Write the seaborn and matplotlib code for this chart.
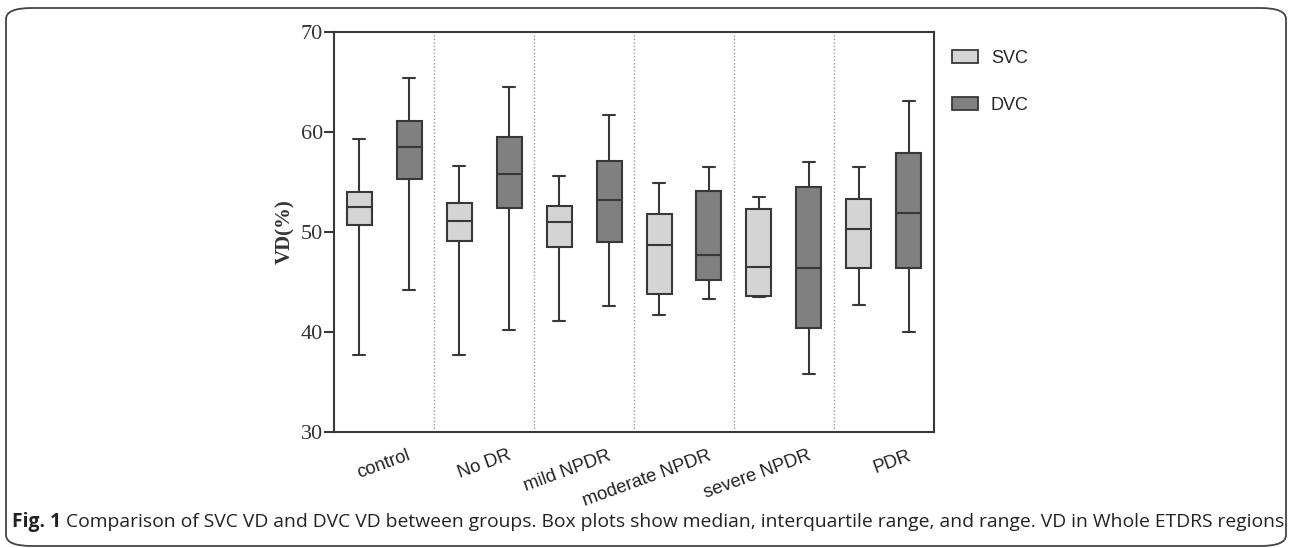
import numpy as np
import pandas as pd
import matplotlib
matplotlib.use("Agg")
import matplotlib.pyplot as plt
import matplotlib.transforms as mtransforms
import seaborn as sns
from matplotlib.patches import Patch, FancyBboxPatch

groups = ["control", "No DR", "mild NPDR", "moderate NPDR", "severe NPDR", "PDR"]
layers = ["SVC", "DVC"]

# five-number summaries: min, Q1, median, Q3, max
svc_min = [37.7, 37.7, 41.1, 41.7, 43.5, 42.7]
svc_q1 = [50.7, 49.1, 48.5, 43.8, 43.6, 46.4]
svc_med = [52.5, 51.1, 51.0, 48.7, 46.5, 50.3]
svc_q3 = [54.0, 52.9, 52.6, 51.8, 52.3, 53.3]
svc_max = [59.3, 56.6, 55.6, 54.9, 53.5, 56.5]

dvc_min = [44.2, 40.2, 42.6, 43.3, 35.8, 40.0]
dvc_q1 = [55.3, 52.4, 49.0, 45.2, 40.4, 46.4]
dvc_med = [58.5, 55.8, 53.2, 47.7, 46.4, 51.9]
dvc_q3 = [61.1, 59.5, 57.1, 54.1, 54.5, 57.9]
dvc_max = [65.4, 64.5, 61.7, 56.5, 57.0, 63.1]

yticks = [30, 40, 50, 60, 70]

caption_bold = "Fig. 1"
caption_rest = (" Comparison of SVC VD and DVC VD between groups. Box plots show median, "
                "interquartile range, and range. VD in Whole ETDRS regions")

rows = []
for i, g in enumerate(groups):
    for v in (svc_min[i], svc_q1[i], svc_med[i], svc_q3[i], svc_max[i]):
        rows.append((g, "SVC", v))
    for v in (dvc_min[i], dvc_q1[i], dvc_med[i], dvc_q3[i], dvc_max[i]):
        rows.append((g, "DVC", v))
df = pd.DataFrame(rows, columns=["group", "layer", "vd"])

sns.set_style("white")
W, H = 1292, 548
fig = plt.figure(figsize=(W / 100, H / 100), dpi=100)
ax = fig.add_axes([334 / W, 1 - 431.7 / H, 600 / W, 400 / H])

colors = {"SVC": "#d4d4d4", "DVC": "#808080"}
edge = "#383838"
sns.boxplot(data=df, x="group", y="vd", hue="layer", order=groups, hue_order=layers,
            whis=(0, 100), width=1.0, gap=0.5, palette=colors, linecolor=edge,
            linewidth=1.5, showfliers=False, legend=False, ax=ax)

for k in range(1, len(groups)):
    ax.axvline(k - 0.5, color="#9a9a9a", linestyle=(0, (1, 1.5)), linewidth=1.0, zorder=0)

ax.set_xlim(-0.5, len(groups) - 0.5)
ax.set_ylim(30, 70)
ax.set_yticks(yticks)
ax.set_yticklabels([str(t) for t in yticks], family=["Liberation Serif", "DejaVu Serif"],
                   fontsize=16, color="#333333")
ax.tick_params(axis="y", direction="out", length=7, width=1.5, color=edge, pad=1, left=True)
ax.tick_params(axis="x", length=0, pad=20)
ax.set_xticks(range(len(groups)))
ax.set_xticklabels(groups, rotation=20, ha="right", va="baseline", rotation_mode="anchor",
                   fontsize=13.3, family=["Liberation Sans", "DejaVu Sans"], color="#222222")
shift = mtransforms.ScaledTranslation(20 / 72, 0, fig.dpi_scale_trans)
for lab in ax.get_xticklabels():
    lab.set_transform(lab.get_transform() + shift)
ax.set_xlabel("")
ax.set_ylabel("VD(%)", family=["Liberation Serif", "DejaVu Serif"], fontsize=15,
              fontweight="bold", color="#333333", labelpad=4)
for s in ax.spines.values():
    s.set_visible(True)
    s.set_color(edge)
    s.set_linewidth(1.5)

handles = [Patch(facecolor=colors[l], edgecolor=edge, linewidth=1.3, label=l) for l in layers]
fig.legend(handles=handles, loc="upper left", bbox_to_anchor=(952 / W, 1 - 50 / H),
           frameon=False, handlelength=1.45, handleheight=0.72,
           handletextpad=0.7, labelspacing=1.67, borderpad=0, borderaxespad=0,
           prop={"family": ["Liberation Sans", "DejaVu Sans"], "size": 13})

# rounded frame around figure content
frame = FancyBboxPatch((6 / W, 2 / H), 1280 / W, 538 / H, transform=fig.transFigure,
                       boxstyle="round,pad=0,rounding_size=0.02", fill=False,
                       edgecolor="#444444", linewidth=1.3)
fig.patches.append(frame)

cap_font = ["Liberation Sans Narrow", "Open Sans", "DejaVu Sans"]
cap_y = 1 - 522 / H
fig.canvas.draw()
r = fig.canvas.get_renderer()
fs = 13
t1 = fig.text(12 / W, cap_y, caption_bold, fontsize=fs, fontweight="bold",
              family=cap_font, va="center", ha="left", color="#222222")
bb = t1.get_window_extent(renderer=r)
t2 = fig.text(bb.x1 / W, cap_y, caption_rest, fontsize=fs, family=cap_font,
              va="center", ha="left", color="#222222")
bb2 = t2.get_window_extent(renderer=r)
scale = (1278 - 12) / (bb2.x1 - 12)
fs2 = fs * scale
t1.set_fontsize(fs2)
bb = t1.get_window_extent(renderer=r)
t2.set_fontsize(fs2)
t2.set_x(bb.x1 / W)

fig.savefig("out.png", dpi=100)
